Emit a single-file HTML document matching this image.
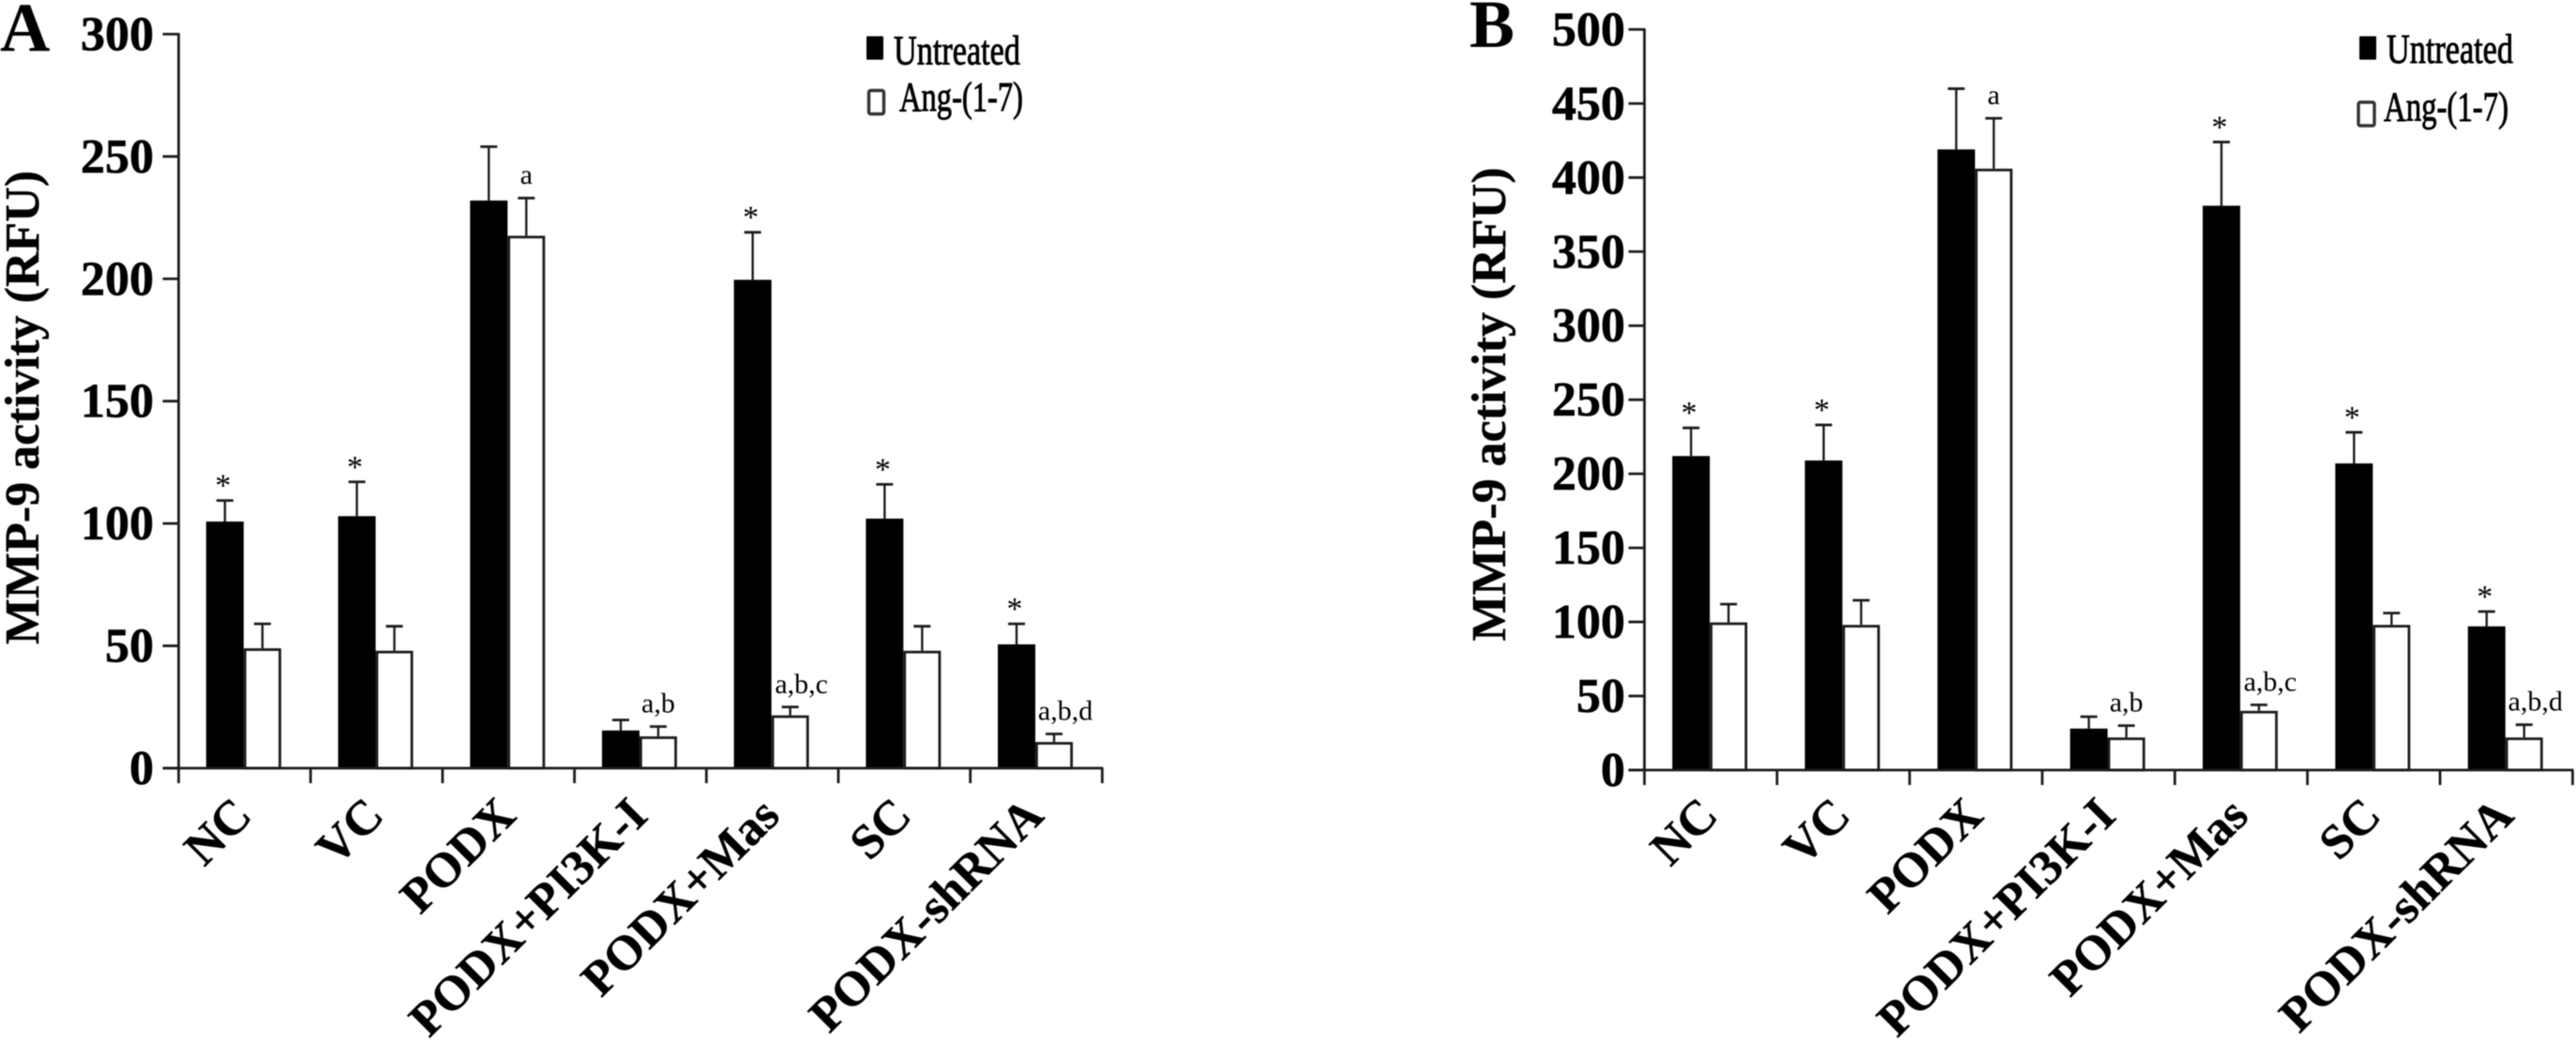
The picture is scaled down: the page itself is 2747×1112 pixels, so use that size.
<!DOCTYPE html>
<html lang="en">
<head>
<meta charset="utf-8">
<title>MMP-9 activity</title>
<style>
html,body{margin:0;padding:0;background:#fff;width:2747px;height:1112px;overflow:hidden}
svg{display:block;filter:blur(0.6px)}
text{font-family:"Liberation Serif","Times New Roman",serif;fill:#000}
</style>
</head>
<body>
<svg id="figure" xmlns="http://www.w3.org/2000/svg" width="2747" height="1112" viewBox="0 0 2747 1112"></svg>
<script>
const categories = ['NC', 'VC', 'PODX', 'PODX+PI3K-I', 'PODX+Mas', 'SC', 'PODX-shRNA'];
const seriesNames = ['Untreated', 'Ang-(1-7)'];
const yTicksA = [0, 50, 100, 150, 200, 250, 300];
const yTicksB = [0, 50, 100, 150, 200, 250, 300, 350, 400, 450, 500];
const untreatedA = [100.8, 103, 232, 15.4, 199.6, 102, 50.6];
const angA = [49, 48, 217.6, 13, 21.6, 48, 10.7];
const untreatedErrA = [8.6, 14, 22, 4.3, 19.4, 14, 8.4];
const angErrA = [10, 10, 15.4, 4, 3.4, 10, 3.3];
const untreatedB = [212, 209, 419, 28, 381, 207, 97];
const angB = [99.7, 98, 406, 22, 40, 98, 22];
const untreatedErrB = [19, 24, 41, 8, 43, 21, 10];
const angErrB = [12.3, 16.6, 34, 8, 4, 8, 8.6];
const untreatedMarks = ['*', '*', '', '', '*', '*', '*'];
const angMarks = ['', '', 'a', 'a,b', 'a,b,c', '', 'a,b,d'];
const yAxisTitle = 'MMP-9 activity (RFU)';

const svg = document.getElementById('figure');
const NS = 'http://www.w3.org/2000/svg';
const INK = '#1c1c1c';

function make(parent, tag, attrs, content) {
  const el = document.createElementNS(NS, tag);
  for (const k in attrs) el.setAttribute(k, attrs[k]);
  if (content !== undefined) el.textContent = content;
  parent.appendChild(el);
  return el;
}

function drawPanel(p) {
  const group = make(svg, 'g', {});
  
  

  const yScale = v => p.y0 - (v - p.yTicks[0]) * (p.y0 - p.yTop) / (p.yTicks[p.yTicks.length - 1] - p.yTicks[0]);
  const bandX = i => p.x0 + (i + 0.5) * p.step - 1;
  const barW = 40;

  const letter = make(group, 'text', {x: p.letterX, y: p.letterY, 'font-size': p.letterSize, 'font-weight': 'bold'}, p.id);
  
  

  categories.forEach((cat, i) => {
    const c = bandX(i);
    const topU = p.untreated[i] + p.untreatedErr[i];
    const topA = p.ang[i] + p.angErr[i];

    const stemU = make(group, 'line', {x1: c - barW / 2, x2: c - barW / 2, y1: yScale(p.untreated[i]), y2: yScale(topU), stroke: INK, 'stroke-width': 2.4});
    
    
    const capU = make(group, 'line', {x1: c - barW / 2 - 9, x2: c - barW / 2 + 9, y1: yScale(topU), y2: yScale(topU), stroke: INK, 'stroke-width': 2.8});
    
    

    const stemA = make(group, 'line', {x1: c + barW / 2, x2: c + barW / 2, y1: yScale(p.ang[i]), y2: yScale(topA), stroke: INK, 'stroke-width': 2.4});
    
    
    const capA = make(group, 'line', {x1: c + barW / 2 - 9, x2: c + barW / 2 + 9, y1: yScale(topA), y2: yScale(topA), stroke: INK, 'stroke-width': 2.8});
    
    

    const barU = make(group, 'rect', {x: c - barW, y: yScale(p.untreated[i]), width: barW, height: yScale(0) - yScale(p.untreated[i]), fill: '#000'});
    
    

    const barA = make(group, 'rect', {x: c + 1.4, y: yScale(p.ang[i]) + 1.4, width: barW - 2.8, height: yScale(0) - yScale(p.ang[i]) - 1.4, fill: '#fff', stroke: INK, 'stroke-width': 2.8});
    
    

    if (untreatedMarks[i]) {
      const star = make(group, 'text', {x: c - barW / 2 - 2, y: yScale(topU) - 5, 'font-size': 34, 'text-anchor': 'middle'}, untreatedMarks[i]);
      
      
    }
    if (angMarks[i]) {
      const shift = angMarks[i].length > 3 ? 12 : 0;
      const note = make(group, 'text', {x: c + barW / 2 + shift, y: yScale(topA) - 15, 'font-size': 30, 'text-anchor': 'middle'}, angMarks[i]);
      
      
    }

    const lx = c + 11;
    const ly = 872;
    const catLabel = make(group, 'text', {x: lx, y: ly, 'font-size': 52, 'font-weight': 'bold', 'text-anchor': 'end', stroke: '#000', 'stroke-width': 0.4, transform: 'rotate(-45 ' + lx + ' ' + ly + ')'}, cat);
    
    
  });

  const yAxis = make(group, 'line', {x1: p.x0, x2: p.x0, y1: p.yTop - 1.2, y2: p.y0 + 16, stroke: INK, 'stroke-width': 2.8});
  
  

  const xAxis = make(group, 'line', {x1: p.x0 - p.tickLen, x2: p.x0 + 7 * p.step + 1, y1: p.y0, y2: p.y0, stroke: INK, 'stroke-width': 2.8});
  
  

  for (let i = 1; i <= 7; i++) {
    const xt = p.x0 + i * p.step;
    const tick = make(group, 'line', {x1: xt, x2: xt, y1: p.y0, y2: p.y0 + 16, stroke: INK, 'stroke-width': 2.8});
    
    
  }

  p.yTicks.forEach(v => {
    const tick = make(group, 'line', {x1: p.x0 - p.tickLen, x2: p.x0, y1: yScale(v), y2: yScale(v), stroke: INK, 'stroke-width': 2.8});
    
    
    const label = make(group, 'text', {x: p.labelRight, y: yScale(v) + 17, 'font-size': 52, 'font-weight': 'bold', 'text-anchor': 'end', stroke: '#000', 'stroke-width': 0.6}, String(v));
    
    
  });

  const title = make(group, 'text', {x: 0, y: 0, 'font-size': 52, 'font-weight': 'bold', 'text-anchor': 'middle', stroke: '#000', 'stroke-width': 0.4, transform: 'translate(' + p.titleX + ' ' + p.titleY + ') rotate(-90)'}, yAxisTitle);
  
  

  const swatchU = make(group, 'rect', {x: p.legend.ux, y: p.legend.uy, width: p.legend.uw, height: 25, fill: '#000', rx: 1});
  
  
  const textU = make(group, 'text', {x: p.legend.utx, y: p.legend.uty, 'font-size': 44, textLength: p.legend.utw, lengthAdjust: 'spacingAndGlyphs', stroke: '#000', 'stroke-width': 0.9}, seriesNames[0]);
  
  

  const swatchA = make(group, 'rect', {x: p.legend.ax, y: p.legend.ay, width: p.legend.aw, height: p.legend.ah, fill: '#fff', stroke: '#333', 'stroke-width': 3.4, rx: 2});
  
  
  const textA = make(group, 'text', {x: p.legend.atx, y: p.legend.aty, 'font-size': 44, textLength: p.legend.atw, lengthAdjust: 'spacingAndGlyphs', stroke: '#000', 'stroke-width': 0.9}, seriesNames[1]);
  
  
}

drawPanel({
  id: 'A', x0: 190.5, step: 140.7, y0: 819, yTop: 36.4, yTicks: yTicksA, tickLen: 17, labelRight: 164,
  letterX: 0, letterY: 54, letterSize: 74, titleX: 41, titleY: 434.5,
  untreated: untreatedA, ang: angA, untreatedErr: untreatedErrA, angErr: angErrA,
  legend: {ux: 924, uy: 38.6, uw: 18, utx: 953, uty: 68.6, utw: 135, ax: 926.5, ay: 96.5, aw: 16, ah: 25, atx: 959, aty: 118, atw: 132}
});
drawPanel({
  id: 'B', x0: 1753.6, step: 141.4, y0: 821, yTop: 31.4, yTicks: yTicksB, tickLen: 17, labelRight: 1733,
  letterX: 1567, letterY: 50, letterSize: 72, titleX: 1605, titleY: 431,
  untreated: untreatedB, ang: angB, untreatedErr: untreatedErrB, angErr: angErrB,
  legend: {ux: 2516, uy: 38.6, uw: 18, utx: 2545, uty: 66.8, utw: 135, ax: 2515, ay: 109, aw: 17, ah: 25, atx: 2542, aty: 128.6, atw: 133}
});
</script>
</body>
</html>
